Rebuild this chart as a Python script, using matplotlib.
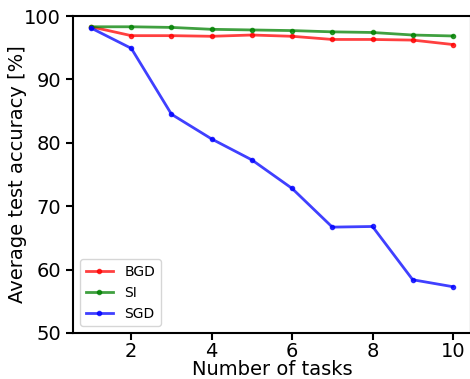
import matplotlib
matplotlib.use("Agg")
import matplotlib.pyplot as plt

tasks = [1, 2, 3, 4, 5, 6, 7, 8, 9, 10]
bgd = [98.3, 96.9, 96.9, 96.8, 97.0, 96.8, 96.3, 96.3, 96.2, 95.5]
si = [98.3, 98.3, 98.2, 97.9, 97.8, 97.7, 97.5, 97.4, 97.0, 96.85]
sgd = [98.1, 94.9, 84.5, 80.6, 77.3, 72.8, 66.7, 66.8, 58.4, 57.3]

fig = plt.figure(figsize=(4.70, 3.79), dpi=100)
ax = fig.add_axes([73/470, 1 - 333/379, 398/470, 317/379])

ax.plot(tasks, bgd, '.-', color='red', alpha=0.75, lw=2, ms=6, label='BGD')
ax.plot(tasks, si, '.-', color='green', alpha=0.75, lw=2, ms=6, label='SI')
ax.plot(tasks, sgd, '.-', color='blue', alpha=0.75, lw=2, ms=6, label='SGD')

ax.set_ylim(50, 100)
ax.set_xticks([2, 4, 6, 8, 10])
ax.set_yticks([50, 60, 70, 80, 90, 100])
ax.tick_params(labelsize=14, width=1.5, length=5)
ax.tick_params(axis='x', pad=1.5)
for s in ax.spines.values():
    s.set_linewidth(1.5)
ax.set_xlabel('Number of tasks', fontsize=14, labelpad=-1)
ax.set_ylabel('Average test accuracy [%]', fontsize=14, labelpad=-2)
ax.legend(loc='lower left', fontsize=10)

fig.savefig('out.png', dpi=100)
